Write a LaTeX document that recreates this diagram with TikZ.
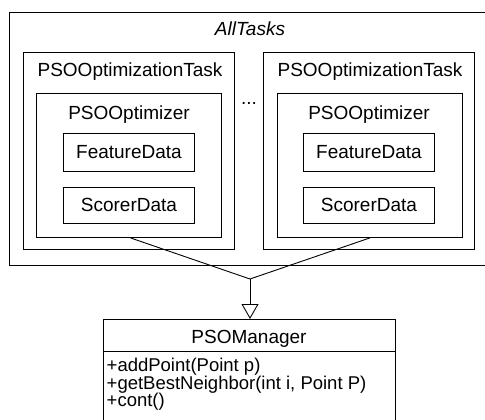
\documentclass[tikz,border=0pt]{standalone}
\usepackage{fontspec}
\setmainfont{Liberation Sans}
\usetikzlibrary{arrows.meta}
\begin{document}
\begin{tikzpicture}[x=1pt,y=-1pt,
  box/.style={draw,line width=0.9pt,inner sep=0pt,anchor=north west},
  txt/.style={inner sep=0pt,anchor=base,font=\fontsize{19}{22}\selectfont},
  mtxt/.style={inner sep=0pt,anchor=base west,text height=12.5pt,text depth=4pt,font=\fontsize{18.5}{22}\selectfont},
  conn/.style={line width=0.9pt}]
\useasboundingbox (0,0) rectangle (485,420);
\clip (0,0) rectangle (485,420);
% outer
\node[box,minimum width=491pt,minimum height=253pt] (all) at (9,12) {};
\node[txt,font=\fontsize{19}{22}\selectfont\itshape] (allt) at (250,36) {AllTasks};
% tasks
\node[box,minimum width=211pt,minimum height=197pt] (taskL) at (23,52) {};
\node[box,minimum width=211pt,minimum height=197pt] (taskR) at (263,52) {};
\node[txt] (taskLt) at (130,76.5) {PSOOptimizationTask};
\node[txt] (taskRt) at (370,76.5) {PSOOptimizationTask};
\node[txt] (dots) at (249,104) {...};
% optimizers
\node[box,minimum width=185pt,minimum height=144pt] (optL) at (36,93) {};
\node[box,minimum width=185pt,minimum height=144pt] (optR) at (277,93) {};
\node[txt] (optLt) at (129,119.5) {PSOOptimizer};
\node[txt] (optRt) at (369,119.5) {PSOOptimizer};
% data boxes
\node[box,minimum width=131pt,minimum height=38pt] (featL) at (63,133) {};
\node[box,minimum width=131pt,minimum height=38pt] (featR) at (303,133) {};
\node[box,minimum width=131pt,minimum height=36pt] (scorL) at (63,187) {};
\node[box,minimum width=131pt,minimum height=36pt] (scorR) at (303,187) {};
\node[txt] at (featL.center) [yshift=-6.5pt] {FeatureData};
\node[txt] at (featR.center) [yshift=-6.5pt] {FeatureData};
\node[txt] at (scorL.center) [yshift=-6.5pt] {ScorerData};
\node[txt] at (scorR.center) [yshift=-6.5pt] {ScorerData};
% class
\node[box,minimum width=292pt,minimum height=121pt] (mgr) at (103,319) {};
\draw[conn] (103,351) -- (395,351);
\node[txt] (mgrt) at (249,343.5) {PSOManager};
\node[mtxt] (m1) at (106.5,371.5) {+addPoint(Point p)};
\node[mtxt] (m2) at (106.5,389) {+getBestNeighbor(int i, Point P)};
\node[mtxt] (m3) at (106.5,406.5) {+cont()};
% connectors
\coordinate (apex) at (250,279);
\draw[conn] (optL.south) ++(1.5,0) -- (apex);
\draw[conn] (optR.south) -- (apex);
\draw[conn,-{Triangle[open,length=15pt,width=17pt,line width=0.9pt]}] (apex) -- (mgr.north -| apex);
\end{tikzpicture}
\end{document}
